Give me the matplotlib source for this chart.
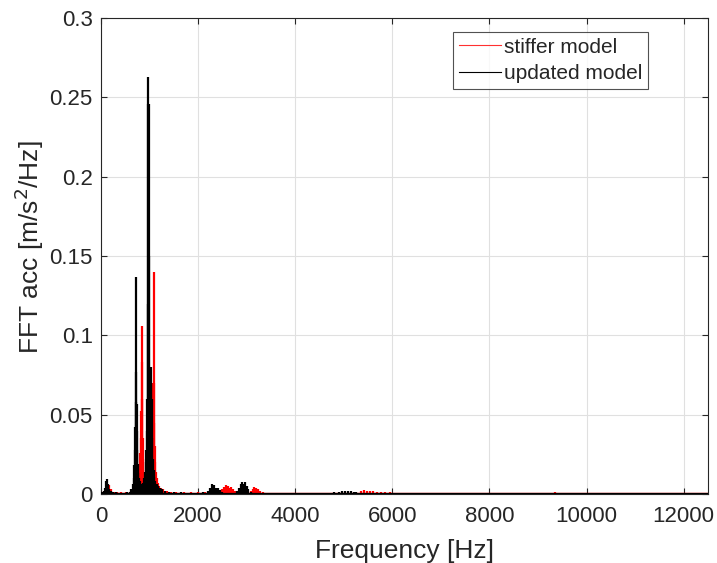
import matplotlib
matplotlib.use("Agg")
import matplotlib.pyplot as plt
from matplotlib.lines import Line2D

plt.rcParams['font.family'] = ['Liberation Sans', 'DejaVu Sans']

# Spectral lines of the stiffer model: frequency [Hz] and amplitude [m/s^2/Hz]
stiff_freq = [60, 110, 130, 165, 200, 260, 330, 420, 520, 620, 690, 720, 750,
              770, 785, 800, 812, 822, 830, 836, 843, 848, 855, 862, 872, 885,
              900, 920, 940, 960, 990, 1010, 1030, 1045, 1058, 1068, 1076, 1085,
              1092, 1100, 1110, 1122, 1135, 1150, 1170, 1195, 1230, 1280, 1350,
              1450, 1550, 1700, 1850, 2000, 2150,
              2500, 2540, 2580, 2610, 2640, 2680, 2720, 2760, 3080, 3120, 3160,
              3200, 3240, 3280, 3330,
              3600, 3800, 4100, 4500, 5350, 5420, 5480, 5540, 5600, 5680, 5760,
              5850, 5950, 6100, 6250, 6400, 6600, 7200, 7900, 8600, 9250, 9350,
              9450, 9600, 10400, 11200]
stiff_amp = [0.002, 0.004, 0.003, 0.0057, 0.003, 0.0015, 0.001, 0.001, 0.0015,
             0.002, 0.004, 0.005, 0.006, 0.009, 0.012, 0.018, 0.026, 0.035, 0.052,
             0.083, 0.106, 0.060, 0.035, 0.022, 0.015, 0.011, 0.009, 0.008, 0.007,
             0.008, 0.010, 0.012, 0.016, 0.022, 0.032, 0.050, 0.070, 0.140, 0.070,
             0.045, 0.030, 0.020, 0.014, 0.010, 0.007, 0.005, 0.004, 0.003, 0.002,
             0.0015, 0.0012, 0.001, 0.001, 0.0012, 0.0015,
             0.003, 0.0045, 0.0057, 0.005, 0.004, 0.0045, 0.003, 0.002, 0.002,
             0.003, 0.0045, 0.004, 0.003, 0.002, 0.0012,
             0.0008, 0.0008, 0.0006, 0.0006, 0.0018, 0.0025, 0.0022, 0.002, 0.0018,
             0.0015, 0.0012, 0.001, 0.0012, 0.0009, 0.0008, 0.0009, 0.0007, 0.0006,
             0.0006, 0.0005, 0.0009, 0.0012, 0.0009, 0.0006, 0.0005, 0.0004]

# Spectral lines of the updated model
upd_freq = [20, 60, 90, 110, 120, 135, 150, 175, 200, 240, 300, 380, 460, 540,
            590, 620, 650, 670, 685, 695, 705, 712, 720, 728, 735, 742, 750, 760,
            772, 785, 800, 820, 845, 870, 890, 905, 920, 932, 942, 952, 960, 968,
            975, 985, 995, 1005, 1015, 1025, 1035, 1044, 1055, 1068, 1082, 1100,
            1120, 1145, 1175, 1210, 1260, 1320, 1400, 1500, 1650, 1800, 1950,
            2100, 2200, 2250, 2290, 2330, 2370, 2410, 2450, 2500, 2800, 2850,
            2880, 2910, 2940, 2970, 3000, 3030, 3080,
            3400, 3700, 4000, 4400, 4800, 4900, 4960, 5020, 5080, 5140, 5200,
            5260, 5330, 5500, 5800, 6200, 6600, 7000, 7400, 7800, 8200, 8600,
            9000, 9400, 9800, 10200, 10600, 11000, 11400, 11800, 12100, 12400]
upd_amp = [0.001, 0.002, 0.004, 0.008, 0.0095, 0.006, 0.005, 0.003, 0.002,
           0.0015, 0.001, 0.0008, 0.0008, 0.001, 0.0015, 0.003, 0.006, 0.010,
           0.018, 0.028, 0.042, 0.058, 0.137, 0.077, 0.057, 0.040, 0.028, 0.019,
           0.013, 0.010, 0.008, 0.006, 0.005, 0.007, 0.010, 0.014, 0.020, 0.028,
           0.040, 0.060, 0.120, 0.263, 0.246, 0.246, 0.150, 0.080, 0.060, 0.070,
           0.080, 0.060, 0.035, 0.022, 0.015, 0.011, 0.008, 0.006, 0.005, 0.004,
           0.003, 0.002, 0.0015, 0.0012, 0.001, 0.0008, 0.0008,
           0.001, 0.002, 0.004, 0.006, 0.0055, 0.004, 0.0035, 0.0025, 0.0015,
           0.002, 0.004, 0.0065, 0.0075, 0.006, 0.0075, 0.005, 0.003, 0.0015,
           0.0006, 0.0006, 0.0006, 0.0008, 0.001, 0.0015, 0.002, 0.0022, 0.002,
           0.0018, 0.0015, 0.0012, 0.0009, 0.0008, 0.0007, 0.0007, 0.0006, 0.0005,
           0.0005, 0.0005, 0.0005, 0.0005, 0.0005, 0.0005, 0.0005, 0.0005,
           0.0005, 0.0005, 0.0005, 0.0005, 0.0005, 0.0005]

x_ticks = [0, 2000, 4000, 6000, 8000, 10000, 12000]
y_ticks = [0, 0.05, 0.1, 0.15, 0.2, 0.25, 0.3]
y_tick_labels = ['0', '0.05', '0.1', '0.15', '0.2', '0.25', '0.3']

fig = plt.figure(figsize=(7.17, 5.63), dpi=100)
ax = fig.add_axes([101 / 717, 1 - 494 / 563, 607 / 717, 476 / 563])

axis_col = '#262626'
ax.vlines(stiff_freq, 0, stiff_amp, color='#ff0000', linewidth=1.6, zorder=2)
ax.plot([0, 12500], [0.0004, 0.0004], color='#ff0000', linewidth=1.0, zorder=2)
ax.vlines(upd_freq, 0, upd_amp, color='black', linewidth=1.6, zorder=3)
ax.plot([0, 12500], [0.0003, 0.0003], color='black', linewidth=1.6, zorder=3)

ax.set_xlim(0, 12500)
ax.set_ylim(0, 0.3)
ax.set_xticks(x_ticks)
ax.set_xticklabels([str(t) for t in x_ticks])
ax.set_yticks(y_ticks)
ax.set_yticklabels(y_tick_labels)
ax.tick_params(direction='in', length=4, width=0.8, colors=axis_col,
               labelsize=16, labelcolor=axis_col, top=True, right=True)
ax.tick_params(axis='x', pad=9)
ax.tick_params(axis='y', pad=6)
ax.grid(True, color='#e0e0e0', linewidth=0.8)
ax.set_axisbelow(True)
for s in ax.spines.values():
    s.set_color(axis_col)
    s.set_linewidth(0.8)

ax.set_xlabel('Frequency [Hz]', fontsize=19, color=axis_col)
ax.set_ylabel('FFT acc [m/s$^2$/Hz]', fontsize=19, color=axis_col)
ax.xaxis.set_label_coords(0.5, -0.095)
ax.yaxis.set_label_coords(-0.09, 0.518)

handles = [Line2D([0], [0], color='#ff3030', linewidth=0.8),
           Line2D([0], [0], color='black', linewidth=0.8)]
leg = ax.legend(handles, ['stiffer model', 'updated model'],
                loc='upper right', bbox_to_anchor=(0.9016, 0.971),
                fontsize=15, frameon=True, fancybox=False,
                handlelength=2.0, handletextpad=0.15, borderpad=0.28,
                labelspacing=0.35, borderaxespad=0.0)
leg.get_frame().set_edgecolor(axis_col)
leg.get_frame().set_linewidth(0.8)
for t in leg.get_texts():
    t.set_color(axis_col)

fig.savefig('out.png', dpi=100)
